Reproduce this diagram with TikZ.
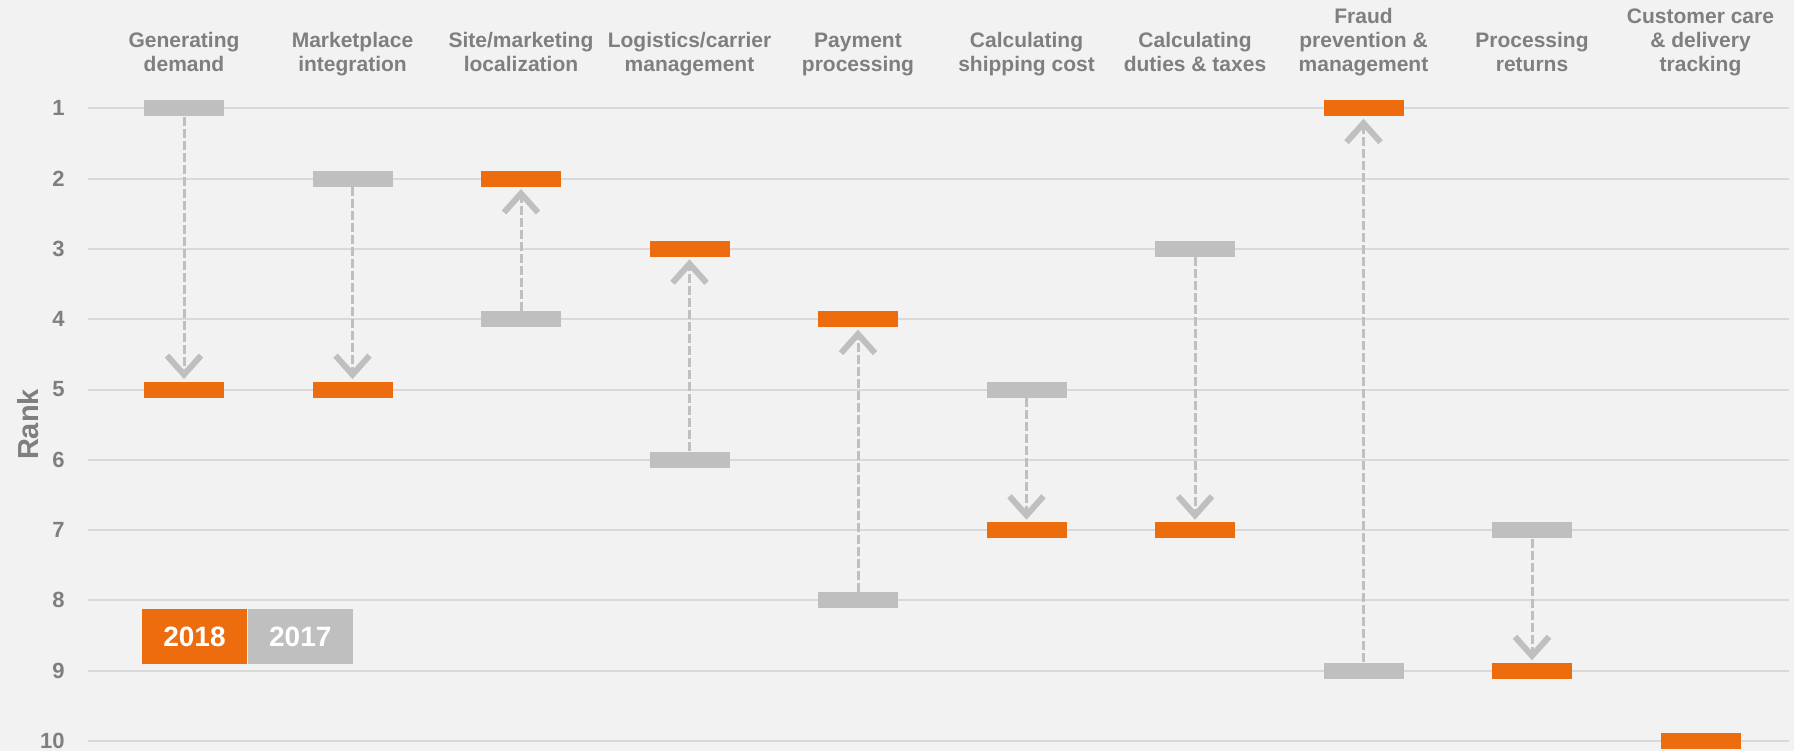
\documentclass[tikz,border=0pt]{standalone}
\usepackage{fontspec}
\setmainfont{Liberation Sans}
\usetikzlibrary{arrows.meta,positioning}
\definecolor{rankorange}{HTML}{EC6C0E}
\definecolor{rankgray}{HTML}{BFBFBF}
\definecolor{gridgray}{HTML}{D9D9D9}
\definecolor{textgray}{HTML}{7F7F7F}
\definecolor{bgfill}{HTML}{F2F2F2}
\begin{document}
\begin{tikzpicture}[x=0.5pt,y=-0.5pt,
    gridline/.style={draw=gridgray,line width=1pt},
    bar18/.style={fill=rankorange,minimum width=40pt,minimum height=8pt,inner sep=0pt},
    bar17/.style={fill=rankgray,minimum width=40pt,minimum height=8pt,inner sep=0pt},
    rankmove/.style={draw=rankgray,line width=1.5pt,dash pattern=on 4.5pt off 1.5pt,shorten >=1pt,
        -{Straight Barb[length=9.5pt,width=17pt,line width=3pt]}},
    coltitle/.style={text=textgray,font=\bfseries\fontsize{10.5}{12}\selectfont,align=center,anchor=south,inner sep=0pt},
    ranklabel/.style={text=textgray,font=\bfseries\fontsize{11}{13}\selectfont,anchor=east,inner sep=0pt},
    legendbox/.style={minimum width=52.5pt,minimum height=27.5pt,inner sep=0pt,text=white,font=\bfseries\fontsize{14}{16}\selectfont}]
        \useasboundingbox (0,0) rectangle (1794,751);
        % Background
        \fill[bgfill] (0,0) rectangle (1794,751);
        % Grid lines and rank numbers
        \foreach \r in {1,...,10} {
            \draw[gridline] (88,{108.3+70.3*(\r-1)}) -- (1789,{108.3+70.3*(\r-1)});
            \node[ranklabel] (rank\r) at (65,{108.3+70.3*(\r-1)}) {\r};
        }
        \node[text=textgray,font=\bfseries\fontsize{14.5}{16}\selectfont,rotate=90] (axis) at (28,424.5) {Rank};
        % Column titles
        \foreach \i/\txt in {0/{Generating\\demand},1/{Marketplace\\integration},2/{Site/marketing\\localization},
            3/{Logistics/carrier\\management},4/{Payment\\processing},5/{Calculating\\shipping cost},
            6/{Calculating\\duties \& taxes},7/{Fraud\\prevention \&\\management},8/{Processing\\returns},
            9/{Customer care\\\& delivery\\tracking}} {
            \node[coltitle] (title\i) at ({184+168.5*\i},79) {\txt\strut};
        }
        % Bars for 2017 and 2018, arrow from old rank to new rank
        \foreach \i/\old/\new in {0/1/5,1/2/5,2/4/2,3/6/3,4/8/4,5/5/7,6/3/7,7/9/1,8/7/9} {
            \node[bar17] (old\i) at ({184+168.5*\i},{108.3+70.3*(\old-1)}) {};
            \node[bar18] (new\i) at ({184+168.5*\i},{108.3+70.3*(\new-1)}) {};
            \ifnum\old<\new
                \draw[rankmove] (old\i.south) -- (new\i.north);
            \else
                \draw[rankmove] (old\i.north) -- (new\i.south);
            \fi
        }
        \node[bar18] (new9) at ({184+168.5*9},{108.3+70.3*9}) {};
        % Legend
        \node[legendbox,fill=rankorange] (key18) at (194.5,636.5) {2018};
        \node[legendbox,fill=rankgray,right=0pt of key18] (key17) {2017};
\end{tikzpicture}
\end{document}
